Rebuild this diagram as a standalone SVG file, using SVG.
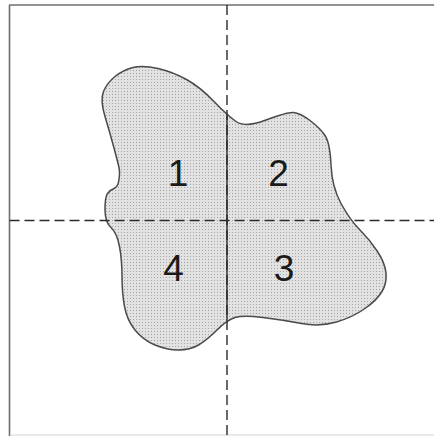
<svg xmlns="http://www.w3.org/2000/svg" width="434" height="436" viewBox="0 0 434 436">
<style>
.frame{stroke:#6e6e6e;stroke-width:1.6;fill:none}
.axis{stroke:#2a2a2a;stroke-width:1.4;fill:none}
.dash{stroke-dasharray:10,5}
.blob{fill:url(#dots);stroke:#4a4a4a;stroke-width:1.5}
.lbl{font-family:"Liberation Sans",Arial,sans-serif;font-size:37px;fill:#1a1a1a;text-anchor:middle}
</style>
<defs>
<pattern id="dots" width="3" height="3" patternUnits="userSpaceOnUse">
<rect width="3" height="3" fill="#e2e2e2"/>
<rect x="1" y="1" width="1" height="1" fill="#a4a4a4"/>
</pattern>
</defs>
<rect width="434" height="436" fill="#ffffff"/>
<g id="frame">
<line class="frame" x1="9.5" y1="5" x2="9.5" y2="436"/>
<line class="frame" x1="9" y1="5" x2="434" y2="5"/>
<line x1="10" y1="435" x2="434" y2="435" stroke="#e2e2e2" stroke-width="1.5"/>
</g>
<g id="region">
<path class="blob" d="M133,67.5 Q143,65 158,68.5 Q173,72 186.5,79.5 Q200,87 213.5,101 Q227,115 236,121.5 Q245,128 266,120 Q287,112 293.5,112.5 Q300,113 310,120.5 Q320,128 325,135.5 Q330,143 331,165 Q332,187 341,203.5 Q350,220 360,230 Q370,240 377.5,251.5 Q385,263 386,273 Q387,283 382,291.5 Q377,300 365,308.5 Q353,317 336.5,322 Q320,327 301.5,323.5 Q283,320 263,317.5 Q243,315 235,317.5 Q227,320 217,330 Q207,340 198.5,345 Q190,350 178.5,350 Q167,350 155,345 Q143,340 135,330 Q127,320 124.5,306.5 Q122,293 122,276.5 Q122,260 119.5,246.5 Q117,233 111,227.5 Q105,222 105,209.5 Q105,197 107.5,193.5 Q110,190 114,188.5 Q118,187 119,179.5 Q120,172 119,167.5 Q118,163 114,148 Q110,133 105,116.5 Q100,100 103.5,91.5 Q107,83 115,76.5 Q123,70 133,67.5 Z"/>
</g>
<g id="axes">
<line class="axis dash" x1="227" y1="5" x2="227" y2="436"/>
<line class="axis" x1="227" y1="116" x2="227" y2="320"/>
<line class="axis dash" x1="9.5" y1="220.5" x2="434" y2="220.5"/>
</g>
<g id="q1"><text class="lbl" x="178" y="186">1</text></g>
<g id="q2"><text class="lbl" x="278.5" y="186">2</text></g>
<g id="q3"><text class="lbl" x="284" y="281">3</text></g>
<g id="q4"><text class="lbl" x="173.5" y="281">4</text></g>
</svg>
